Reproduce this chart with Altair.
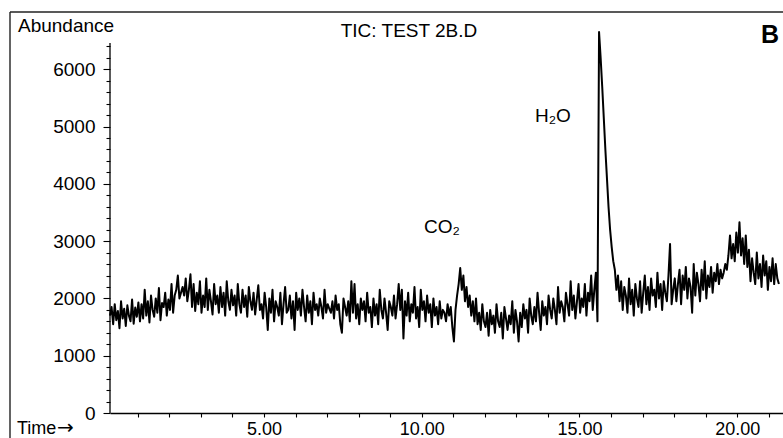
import altair as alt
import pandas as pd

abundance = [
    1700, 1850, 1550, 1900, 1620, 1780, 1480, 1950, 1650, 1820, 1520, 1880, 1700, 1600, 1980, 1560, 1840, 1680, 1930, 1600,
    1900, 1650, 2150, 1700, 1950, 1580, 2050, 1800, 1680, 2000, 1750, 2180, 1620, 1920, 1850, 2100, 1700, 1980, 1800, 2250,
    1750, 2050, 2150, 2400, 2000, 2100, 2200, 2050, 2350, 1950, 2150, 2420, 1850, 2250, 1780, 2100, 1900, 2300, 1750, 2050,
    1850, 2350, 1800, 2150, 1950, 1720, 2250, 1900, 2050, 1750, 2200, 1850, 2100, 1700, 2300, 1950, 1800, 2150, 1880, 2050,
    1700, 2250, 1900, 1750, 2150, 1850, 2050, 1680, 2200, 1950, 1800, 2100, 1720, 1980, 2230, 1800, 1900, 1650, 2100, 1850,
    1450, 2000, 1750, 2150, 1600, 1950, 1850, 1700, 2100, 1550, 1900, 2200, 1750, 1800, 2050, 1650, 1950, 1450, 2100, 1800,
    2000, 1700, 2150, 1850, 1600, 2050, 1750, 1950, 1550, 2100, 1800, 1900, 1700, 2000, 1850, 1650, 2150, 1750, 1900, 1820,
    1750, 1950, 1650, 2050, 1800, 1900, 1550, 1400, 2000, 1850, 1700, 1950, 1600, 2300, 1750, 2250, 1650, 1900, 1550, 2000,
    1800, 1950, 1600, 2100, 1750, 1850, 1500, 2000, 1700, 1900, 1550, 2150, 1800, 1650, 2000, 1750, 1450, 1950, 1850, 1700,
    2050, 1650, 1900, 2250, 1800, 2150, 1300, 1950, 1700, 2100, 1600, 1900, 1750, 2200, 1650, 1850, 1500, 2150, 1800, 1950,
    1600, 2050, 1750, 1900, 1500, 2000, 1700, 1850, 1550, 1950, 1650, 1800, 1750, 1600, 1900, 1700, 1850, 1500, 1250, 1800,
    2050, 2250, 2530, 2150, 2400, 1950, 2200, 1850, 2050, 1700, 1950, 1600, 2000, 1550, 1750, 1450, 1900, 1600, 1500, 1750,
    1350, 1800, 1550, 1700, 1400, 1900, 1600, 1500, 1750, 1300, 1850, 1650, 1450, 1700, 1550, 1950, 1400, 1800, 1600, 1250,
    1750, 1500, 1900, 1650, 1800, 1400, 2000, 1700, 1550, 1850, 1600, 2100, 1750, 1450, 1950, 1700, 1850, 1550, 2050, 1800,
    1650, 2000, 1800, 1550, 2200, 1750, 1950, 1850, 1600, 2100, 1900, 1700, 2300, 1800, 2050, 1650, 1950, 2250, 1750, 2000,
    1850, 2250, 1700, 2100, 1950, 2400, 1800, 2150, 2450, 1600, 6650, 6200, 5700, 5150, 4600, 4100, 3600, 3200, 2900, 2650,
    2500, 2150, 2400, 1950, 2300, 1800, 2200, 2050, 1750, 2350, 1900, 2150, 1700, 2250, 2000, 1850, 2300, 1750, 2100, 2400,
    1900, 2200, 1800, 2350, 2050, 2150, 1850, 2450, 2000, 2250, 1800, 2300, 2100, 1950, 2400, 2950, 1900, 2150, 2350, 1950,
    2250, 2500, 1900, 2400, 2150, 2550, 2000, 2350, 2200, 1750, 2600, 2050, 2450, 2250, 1950, 2500, 2150, 2650, 2000, 2400,
    2200, 2550, 2100, 2450, 2300, 2600, 2250, 2500, 2350, 2450, 2600, 2500, 2750, 3100, 2700, 2950, 2650, 3150, 2800, 3330,
    2750, 3050, 2600, 3100, 2550, 2850, 2300, 2700, 2450, 2250, 2800, 2350, 2600, 2200, 2750, 2400, 2650, 2150, 2550, 2300,
    2700, 2250, 2600, 2350, 2250,
]
scan_start = 0.12
scan_step = 0.05
times = [round(scan_start + scan_step * i, 2) for i in range(len(abundance))]

x_ticks = list(range(1, 22))
y_ticks = list(range(0, 6401, 200))

title_text = "TIC: TEST 2B.D"
panel_letter = "B"
y_title = "Abundance"
x_title = "Time"
x_arrow = "\u2192"
peak_labels = ["CO\u2082", "H\u2082O"]

df = pd.DataFrame({"time": times, "abundance": abundance})

FONT = "Liberation Sans"
W, H = 673, 401

xscale = alt.Scale(domain=[0.12, 21.45], nice=False, zero=False)
yscale = alt.Scale(domain=[0, 7000], nice=False)

trace = alt.Chart(df).mark_line(color="black", strokeWidth=2.0, strokeJoin="round").encode(
    x=alt.X(
        "time:Q", scale=xscale,
        axis=alt.Axis(
            values=x_ticks, title=None, grid=False,
            labelExpr="datum.value % 5 === 0 ? format(datum.value, '.2f') : ''",
            domainColor="black", domainWidth=1.3, tickColor="black", tickWidth=1.1,
            tickSize=4, labelFont=FONT, labelFontSize=18, labelColor="black",
            labelBaseline="alphabetic", labelPadding=17, labelFlush=False,
            labelOverlap=False,
        ),
    ),
    y=alt.Y(
        "abundance:Q", scale=yscale,
        axis=alt.Axis(
            values=y_ticks, title=None, grid=False, domain=False,
            labelExpr="datum.value % 1000 === 0 ? datum.label : ''",
            format="d",
            tickColor="black", tickWidth=1.1,
            tickSize={"condition": {"test": "datum.value % 1000 === 0", "value": 7}, "value": 4},
            labelFont=FONT, labelFontSize=19, labelColor="black",
            labelPadding=8, labelOverlap=False,
        ),
    ),
)

# y axis line (stops a little above the 6400 tick as in the original)
yaxis_line = alt.Chart(pd.DataFrame({"a": [0]})).mark_rule(
    color="black", strokeWidth=1.3
).encode(x=alt.value(0), y=alt.value(31), y2=alt.value(H))

# page frame (left and top border)
frame_left = alt.Chart(pd.DataFrame({"a": [0]})).mark_rule(color="#222", strokeWidth=1.4).encode(
    x=alt.value(-100), y=alt.value(0), y2=alt.value(H + 30)
)
frame_top = alt.Chart(pd.DataFrame({"a": [0]})).mark_rule(color="#222", strokeWidth=1.4).encode(
    x=alt.value(-100), x2=alt.value(W + 5), y=alt.value(0)
)

def label(text, x, y, size=18, weight="normal", align="left", font=FONT):
    return alt.Chart(pd.DataFrame({"t": [text]})).mark_text(
        font=font, fontSize=size, fontWeight=weight, color="black",
        align=align, baseline="alphabetic",
    ).encode(text="t:N", x=alt.value(x), y=alt.value(y))

texts = [
    label(y_title, -92, 20, size=19),
    label(title_text, 299, 25, size=19, align="center"),
    label(panel_letter, 660, 31, size=25, weight="bold", align="center"),
    label(peak_labels[1], 425, 110, size=19),
    label(peak_labels[0], 314, 221, size=19),
    label(x_title, -93, 422, size=18),
    label(x_arrow, -53, 422, size=20, font="DejaVu Sans"),
]

chart = alt.layer(trace, yaxis_line, frame_left, frame_top, *texts).properties(
    width=W, height=H,
    autosize=alt.AutoSizeParams(type="none"),
    padding={"left": 110, "top": 12, "right": 0, "bottom": 25},
    background="white",
).configure_view(stroke=None).configure_axisY(labelOverlap=False)

chart.save("out.html", embed_options={"renderer": "svg", "actions": False})
